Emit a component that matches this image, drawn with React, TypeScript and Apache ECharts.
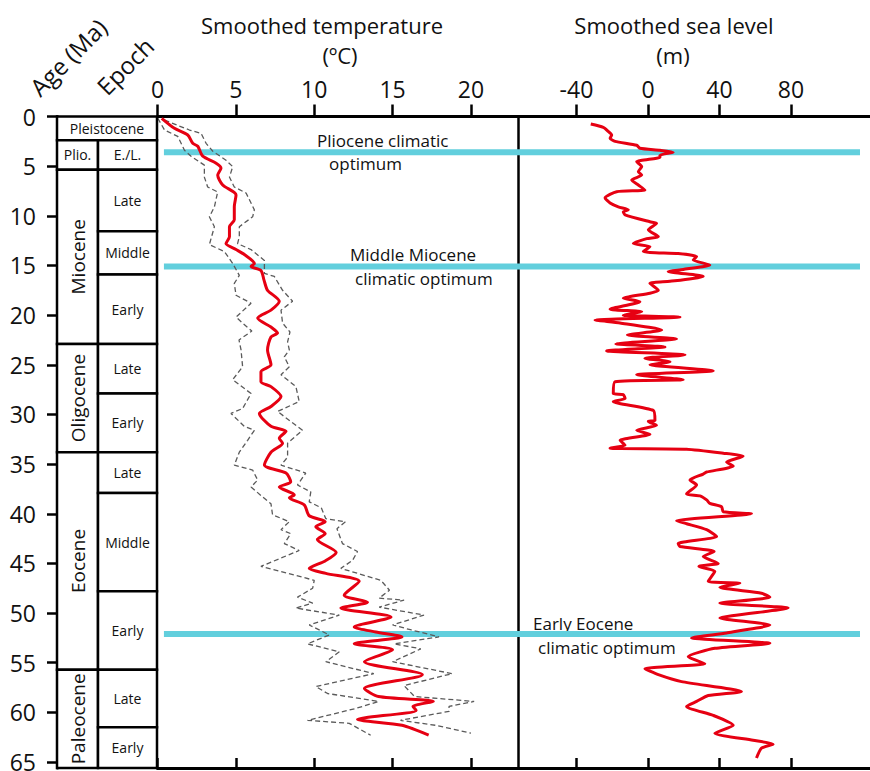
import React, { useEffect, useRef } from 'react';
import * as echarts from 'echarts';

const FONT = "'Open Sans', sans-serif";
const AGE_MAX = 65.6;
const ageTicks = [0, 5, 10, 15, 20, 25, 30, 35, 40, 45, 50, 55, 60, 65];
const tempTicks = [0, 5, 10, 15, 20];
const seaTicks = [-40, 0, 40, 80];
const optimumAges = [3.6, 15.1, 52.1];

// [age (Ma), temperature (°C)]
const tempMean: number[][] = [
  [0.18, 0.27], [1.19, 1.08], [1.86, 1.93], [2.7, 2.25], [3.0, 2.57], [4.0, 2.89], [4.7, 3.74],
  [5.2, 4.05], [5.9, 3.84], [6.9, 4.16], [7.9, 5.01], [9.1, 4.9], [10.4, 4.9], [11.1, 4.59],
  [12.1, 4.59], [12.8, 4.37], [13.4, 5.01], [13.9, 5.54], [14.8, 6.18], [15.1, 5.97], [15.5, 6.6],
  [16.5, 6.8], [17.5, 7.02], [18.6, 7.77], [19.5, 7.24], [20.3, 6.39], [21.2, 7.24], [21.8, 7.66],
  [22.2, 7.24], [23.5, 7.02], [25.0, 7.24], [25.7, 6.6], [26.7, 6.6], [27.2, 7.24], [28.2, 7.88],
  [29.2, 7.24], [29.9, 6.5], [31.2, 7.24], [31.7, 8.2], [32.4, 7.77], [32.9, 7.98], [33.8, 7.24],
  [35.1, 6.82], [35.9, 8.2], [36.8, 8.5], [37.3, 7.77], [38.1, 8.73], [38.4, 8.41], [39.1, 9.36],
  [40.2, 9.68], [40.8, 10.7], [41.3, 10.1], [42.0, 10.7], [42.6, 10.2], [43.9, 11.4], [44.75, 10.7],
  [45.5, 9.68], [46.0, 10.74], [46.8, 12.87], [48.2, 11.91], [48.9, 13.4], [49.5, 11.7], [50.4, 14.9],
  [51.4, 12.55], [51.9, 13.93], [52.4, 15.6], [53.1, 12.55], [53.7, 15.0], [54.9, 13.2], [56.2, 16.9],
  [57.6, 13.2], [58.4, 14.1], [58.9, 17.6], [59.4, 16.3], [59.8, 16.5], [60.7, 12.76], [61.3, 15.6],
  [62.3, 17.3],
];

const tempLower: number[][] = [
  [0.18, 0.02], [1.36, 0.45], [2.0, 1.29], [3.4, 1.72], [4.0, 2.14], [4.9, 2.99], [6.1, 2.99],
  [7.1, 3.2], [7.6, 3.84], [9.1, 3.63], [10.1, 3.31], [11.1, 3.63], [12.9, 3.31], [13.6, 4.27],
  [14.8, 4.8], [16.0, 5.22], [16.8, 4.9], [18.0, 5.01], [18.8, 5.97], [20.2, 5.01], [20.8, 5.43],
  [21.6, 6.02], [22.5, 5.2], [23.5, 5.33], [25.2, 5.43], [26.5, 4.8], [27.9, 5.97], [29.4, 5.43],
  [29.9, 4.69], [31.2, 5.54], [31.6, 6.18], [32.6, 5.75], [33.8, 5.22], [35.1, 4.9], [35.6, 6.07],
  [36.6, 6.39], [37.3, 5.97], [38.3, 6.7], [39.0, 7.24], [40.1, 7.34], [40.8, 8.41], [41.6, 7.88],
  [42.0, 8.5], [43.0, 8.09], [43.7, 9.04], [45.3, 6.6], [46.7, 10.0], [47.5, 9.9], [48.4, 8.93],
  [49.0, 9.9], [49.5, 8.83], [50.2, 11.6], [51.2, 9.68], [52.2, 10.96], [53.1, 9.57], [53.9, 11.6],
  [54.9, 10.74], [56.1, 13.8], [57.4, 10.1], [58.1, 10.85], [58.9, 14.1], [59.6, 12.66], [60.8, 9.57],
  [61.1, 12.23], [62.3, 13.6],
];

const tempUpper: number[][] = [
  [0.35, 0.45], [0.9, 1.29], [1.36, 2.04], [1.7, 2.78], [2.7, 3.1], [3.5, 3.53], [4.4, 4.37],
  [5.05, 4.8], [6.1, 4.59], [7.1, 4.9], [7.7, 5.65], [9.4, 6.18], [10.1, 6.07], [11.1, 5.22],
  [12.1, 5.22], [12.8, 5.11], [13.4, 5.97], [14.5, 6.82], [15.8, 6.82], [16.1, 7.45], [17.5, 7.98],
  [18.6, 8.62], [19.5, 7.88], [20.8, 7.98], [21.7, 8.45], [22.7, 8.3], [23.5, 8.41], [24.2, 8.09],
  [25.2, 8.41], [26.0, 7.88], [27.2, 8.83], [28.7, 9.04], [29.7, 7.66], [31.6, 9.25], [32.9, 8.3],
  [34.3, 8.3], [35.1, 7.88], [35.9, 9.46], [37.1, 8.93], [37.8, 9.78], [38.8, 9.68], [39.4, 10.45],
  [40.5, 10.74], [40.8, 12.0], [41.5, 11.45], [43.0, 11.8], [43.8, 12.76], [44.7, 12.44], [45.5, 11.7],
  [46.7, 14.25], [47.7, 14.8], [48.5, 14.14], [48.7, 15.73], [49.4, 14.14], [50.2, 17.0], [51.2, 15.0],
  [51.7, 16.2], [52.4, 17.96], [53.1, 15.1], [53.6, 16.8], [54.9, 15.0], [56.1, 18.8], [57.3, 15.73],
  [58.4, 16.4], [58.9, 20.2], [59.4, 18.6], [59.9, 18.6], [60.8, 15.5], [61.3, 17.75], [62.1, 20.0],
];

// [age (Ma), sea level (m)]
const seaLevel: number[][] = [
  [0.76, -32.0], [1.1, -25], [1.5, -22.2], [1.86, -20.3], [2.2, -21.2], [2.5, -18.4], [2.9, -6.3],
  [3.2, -4.5], [3.4, 6.7], [3.6, 14.1], [3.9, 6.7], [4.1, 6.7], [4.55, -6.3], [5.05, -3.5],
  [5.56, -5.4], [5.9, -3.5], [6.4, -9.1], [6.9, -5.4], [7.4, -1.7], [7.57, -17.5], [8.2, -24.0],
  [8.7, -21.2], [9.1, -16.6], [9.4, -11.0], [9.6, -13.8], [9.9, -12.8], [10.6, 1.1], [10.75, 4.8],
  [11.4, 0.2], [12.1, 5.8], [12.3, -0.7], [12.8, -8.2], [13.1, 1.1], [13.6, -2.6], [13.8, 16.9],
  [14.1, 27.2], [14.45, 25.3], [14.95, 34.6], [15.4, 19.7], [15.6, 11.3], [16.1, 30.9], [16.6, 12.3],
  [16.8, 1.1], [17.5, 5.8], [17.8, 1.1], [18.3, -13.8], [18.65, -4.5], [19.4, -21.2], [19.65, -3.5],
  [20.0, -13.8], [20.2, 17.9], [20.5, -29.6], [20.8, -15.6], [21.5, 7.7], [22.0, -11.5], [22.4, 16.0],
  [22.9, -18.0], [23.2, 9.5], [23.6, -23.1], [24.0, 20.7], [24.35, -1.7], [24.7, 12.3], [25.0, 1.1],
  [25.6, 36.5], [26.0, -6.3], [26.5, 19.7], [26.7, -18.4], [27.9, -19.4], [28.0, -13.8], [28.4, -12.8],
  [28.7, -19.4], [29.6, 3.0], [30.6, 3.9], [30.7, 0.2], [31.1, 4.8], [31.6, -6.3], [32.0, 1.1],
  [32.6, -15.6], [33.1, -12.8], [33.4, -21.2], [33.5, 21.6], [33.9, 42.1], [34.2, 53.2], [34.8, 44.0],
  [35.2, 47.7], [35.8, 32.8], [36.0, 30.9], [36.6, 23.5], [37.1, 27.2], [38.0, 21.6], [38.2, 29.1],
  [38.6, 32.8], [38.95, 34.6], [39.3, 41.2], [39.8, 42.1], [40.0, 57.9], [40.7, 16.0], [41.0, 21.6],
  [41.6, 32.8], [42.3, 38.4], [43.0, 16.9], [43.3, 17.9], [43.8, 37.0], [44.3, 30.9], [45.0, 39.3],
  [45.3, 28.5], [45.8, 37.4], [46.8, 33.7], [47.0, 51.4], [47.4, 40.2], [48.0, 63.5], [48.4, 68.2],
  [49.0, 40.2], [49.5, 78.4], [50.5, 40.2], [51.2, 68.2], [52.0, 44.0], [52.5, 24.4], [53.05, 68.2],
  [53.55, 37.4], [54.4, 22.5], [55.1, 31.8], [55.6, -1.7], [56.2, 5.8], [56.9, 18.8], [57.9, 52.3],
  [58.3, 33.7], [58.9, 27.2], [59.4, 21.6], [60.3, 36.5], [61.3, 47.7], [62.1, 37.4], [62.8, 58.8],
  [63.2, 70.0], [63.6, 63.5], [64.6, 60.7],
];

// Epoch table
const unitNames = ['Pleistocene', 'Plio.', 'E./L.', 'Miocene', 'Late', 'Middle', 'Early', 'Oligocene', 'Late', 'Early', 'Eocene', 'Late', 'Middle', 'Early', 'Paleocene', 'Late', 'Early'];
const unitStart = [0, 2.4, 2.4, 5.35, 5.35, 11.55, 15.9, 22.9, 22.9, 27.9, 33.8, 33.8, 37.9, 47.8, 55.7, 55.7, 61.5];
const unitEnd = [2.4, 5.35, 5.35, 22.9, 11.55, 15.9, 22.9, 33.8, 27.9, 33.8, 55.7, 37.9, 47.8, 55.7, AGE_MAX, 61.5, AGE_MAX];
const unitColumn = ['both', 'epoch', 'sub', 'epoch', 'sub', 'sub', 'sub', 'epoch', 'sub', 'sub', 'epoch', 'sub', 'sub', 'sub', 'epoch', 'sub', 'sub'];
const unitVertical = [false, false, false, true, false, false, false, true, false, false, true, false, false, false, true, false, false];
const columnEdges: Record<string, number[]> = { both: [0, 100], epoch: [0, 41], sub: [41, 100] };

const TEMP_MAX = 23;
const SEA_MIN = -72.7;
const SEA_MAX = 124.2;

export default function App() {
  const ref = useRef<HTMLDivElement>(null);
  useEffect(() => {
    if (!ref.current) return;
    const chart = echarts.init(ref.current, null, { renderer: 'svg' });
    const gridTop = 116.5;
    const gridH = 651.5;
    const axisLine = { show: true, onZero: false, lineStyle: { color: '#000', width: 3 } };
    const label = { fontSize: 23, color: '#111', fontFamily: FONT };

    const cyan = '#62cfdd';
    const cyanSeries: any[] = [];
    optimumAges.forEach((a) => {
      cyanSeries.push({
        type: 'line', xAxisIndex: 1, yAxisIndex: 1, data: [[0.41, a], [TEMP_MAX, a]],
        symbol: 'none', lineStyle: { color: cyan, width: 6 }, z: 1, silent: true,
      });
      cyanSeries.push({
        type: 'line', xAxisIndex: 3, yAxisIndex: 2, data: [[SEA_MIN, a], [118.6, a]],
        symbol: 'none', lineStyle: { color: cyan, width: 6 }, z: 1, silent: true,
      });
    });

    const txt = (text: string, x: number, y: number, size: number, align = 'left', rotation = 0) => ({
      type: 'text', x, y, rotation,
      style: { text, fontSize: size, fontFamily: FONT, fill: '#111', align, verticalAlign: 'middle' },
    });

    chart.setOption({
      animation: false,
      backgroundColor: '#fff',
      grid: [
        { left: 57, top: gridTop, width: 100, height: gridH, outerBoundsMode: 'none', containLabel: false },
        { left: 157.5, top: gridTop, width: 360.5, height: gridH, outerBoundsMode: 'none', containLabel: false },
        { left: 518, top: gridTop, width: 352, height: gridH, outerBoundsMode: 'none', containLabel: false },
      ],
      xAxis: [
        { gridIndex: 0, type: 'value', min: 0, max: 100, show: false },
        {
          gridIndex: 1, type: 'value', position: 'top', min: 0, max: TEMP_MAX, axisLine,
          axisTick: { show: true, inside: false, length: 12, customValues: tempTicks, lineStyle: { color: '#000', width: 2.5 } },
          axisLabel: { ...label, margin: 16, customValues: tempTicks }, splitLine: { show: false },
        },
        {
          gridIndex: 1, type: 'value', position: 'bottom', min: 0, max: TEMP_MAX, axisLine,
          axisTick: { show: true, inside: true, length: 10, customValues: tempTicks, lineStyle: { color: '#000', width: 2.5 } },
          axisLabel: { show: false }, splitLine: { show: false },
        },
        {
          gridIndex: 2, type: 'value', position: 'top', min: SEA_MIN, max: SEA_MAX, axisLine,
          axisTick: { show: true, inside: false, length: 12, customValues: seaTicks, lineStyle: { color: '#000', width: 2.5 } },
          axisLabel: { ...label, margin: 16, customValues: seaTicks }, splitLine: { show: false },
        },
        {
          gridIndex: 2, type: 'value', position: 'bottom', min: SEA_MIN, max: SEA_MAX, axisLine,
          axisTick: { show: true, inside: true, length: 10, customValues: seaTicks, lineStyle: { color: '#000', width: 2.5 } },
          axisLabel: { show: false }, splitLine: { show: false },
        },
      ],
      yAxis: [
        {
          gridIndex: 0, type: 'value', position: 'left', inverse: true, min: 0, max: AGE_MAX, axisLine,
          axisTick: { show: true, inside: false, length: 10, customValues: ageTicks, lineStyle: { color: '#000', width: 2.5 } },
          axisLabel: { ...label, margin: 21, customValues: ageTicks }, splitLine: { show: false },
        },
        { gridIndex: 1, type: 'value', inverse: true, min: 0, max: AGE_MAX, show: false },
        {
          gridIndex: 2, type: 'value', position: 'left', inverse: true, min: 0, max: AGE_MAX,
          axisLine: { show: true, onZero: false, lineStyle: { color: '#000', width: 2.5 } },
          axisTick: { show: false }, axisLabel: { show: false }, splitLine: { show: false },
        },
      ],
      series: [
        {
          type: 'custom', xAxisIndex: 0, yAxisIndex: 0, silent: true, z: 5,
          data: unitNames.map((_, i) => [columnEdges[unitColumn[i]][0], columnEdges[unitColumn[i]][1], unitStart[i], unitEnd[i]]),
          renderItem: (params: any, api: any) => {
            const i = params.dataIndex;
            const p0 = api.coord([api.value(0), api.value(2)]);
            const p1 = api.coord([api.value(1), api.value(3)]);
            const x = p0[0], y = p0[1], w = p1[0] - p0[0], h = p1[1] - p0[1];
            const vert = unitVertical[i];
            return {
              type: 'group',
              children: [
                { type: 'rect', shape: { x, y, width: w, height: h }, style: { fill: '#fff', stroke: '#000', lineWidth: 2.5 } },
                {
                  type: 'text', x: x + w / 2, y: y + h / 2, rotation: vert ? Math.PI / 2 : 0,
                  style: { text: unitNames[i], fontSize: vert ? 19 : 14, fontFamily: FONT, fill: '#111', align: 'center', verticalAlign: 'middle' },
                },
              ],
            };
          },
        },
        ...cyanSeries,
        {
          type: 'line', xAxisIndex: 1, yAxisIndex: 1, data: tempLower.map((d) => [d[1], d[0]]),
          symbol: 'none', lineStyle: { color: '#5a5a5a', width: 1.3, type: [5, 3] }, z: 3, silent: true,
        },
        {
          type: 'line', xAxisIndex: 1, yAxisIndex: 1, data: tempUpper.map((d) => [d[1], d[0]]),
          symbol: 'none', lineStyle: { color: '#5a5a5a', width: 1.3, type: [5, 3] }, z: 3, silent: true,
        },
        {
          type: 'line', xAxisIndex: 1, yAxisIndex: 1, data: tempMean.map((d) => [d[1], d[0]]),
          symbol: 'none', smooth: 0.25, lineStyle: { color: '#e60012', width: 3 }, z: 4, silent: true,
        },
        {
          type: 'line', xAxisIndex: 3, yAxisIndex: 2, data: seaLevel.map((d) => [d[1], d[0]]),
          symbol: 'none', smooth: 0.2, lineStyle: { color: '#e60012', width: 3 }, z: 4, silent: true,
        },
      ],
      graphic: [
        txt('Smoothed temperature', 322, 25, 22, 'center'),
        txt('(ºC)', 340, 55, 22, 'center'),
        txt('Smoothed sea level', 674, 25, 22, 'center'),
        txt('(m)', 673, 55, 22, 'center'),
        txt('Age (Ma)', 68, 57, 24, 'center', Math.PI / 4),
        txt('Epoch', 125, 66, 24, 'center', Math.PI / 4),
        txt('Pliocene climatic', 317, 140, 17),
        txt('optimum', 329, 163, 17),
        txt('Middle Miocene', 350, 254, 17),
        txt('climatic optimum', 355, 278, 17),
        txt('Early Eocene', 533, 623, 17),
        txt('climatic optimum', 538, 647, 17),
      ],
    });
    return () => chart.dispose();
  }, []);
  return <div ref={ref} style={{ position: 'absolute', left: 0, top: 0, width: 870, height: 771, background: '#fff' }} />;
}
